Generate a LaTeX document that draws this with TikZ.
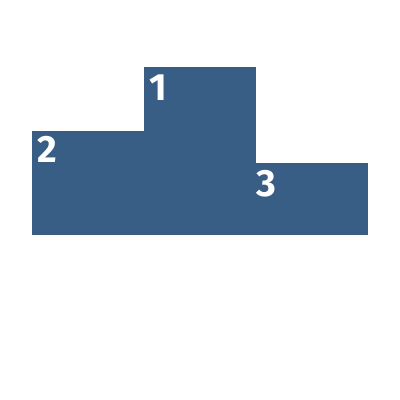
\documentclass[tikz,border=0pt]{standalone}
\usepackage{fontspec}
\setmainfont{Fira Sans}
\definecolor{podium}{HTML}{385E86}
\tikzset{block/.style={fill=podium,draw=none},
num/.style={text=white,font=\fontsize{38}{38}\selectfont\bfseries,anchor=base west,inner sep=0pt}}
\begin{document}
\begin{tikzpicture}[x=1pt,y=-1pt]
\useasboundingbox (0,0) rectangle (400,400);
\fill[white] (0,0) rectangle (400,400);
\path[block] (32,131) rectangle (144,235);
\path[block] (144,67) rectangle (256,235);
\path[block] (256,163) rectangle (368,235);
\node[num] (n1) at (149,100) {1};
\node[num] (n2) at (37,162) {2};
\node[num] (n3) at (256,196) {3};
\end{tikzpicture}
\end{document}
